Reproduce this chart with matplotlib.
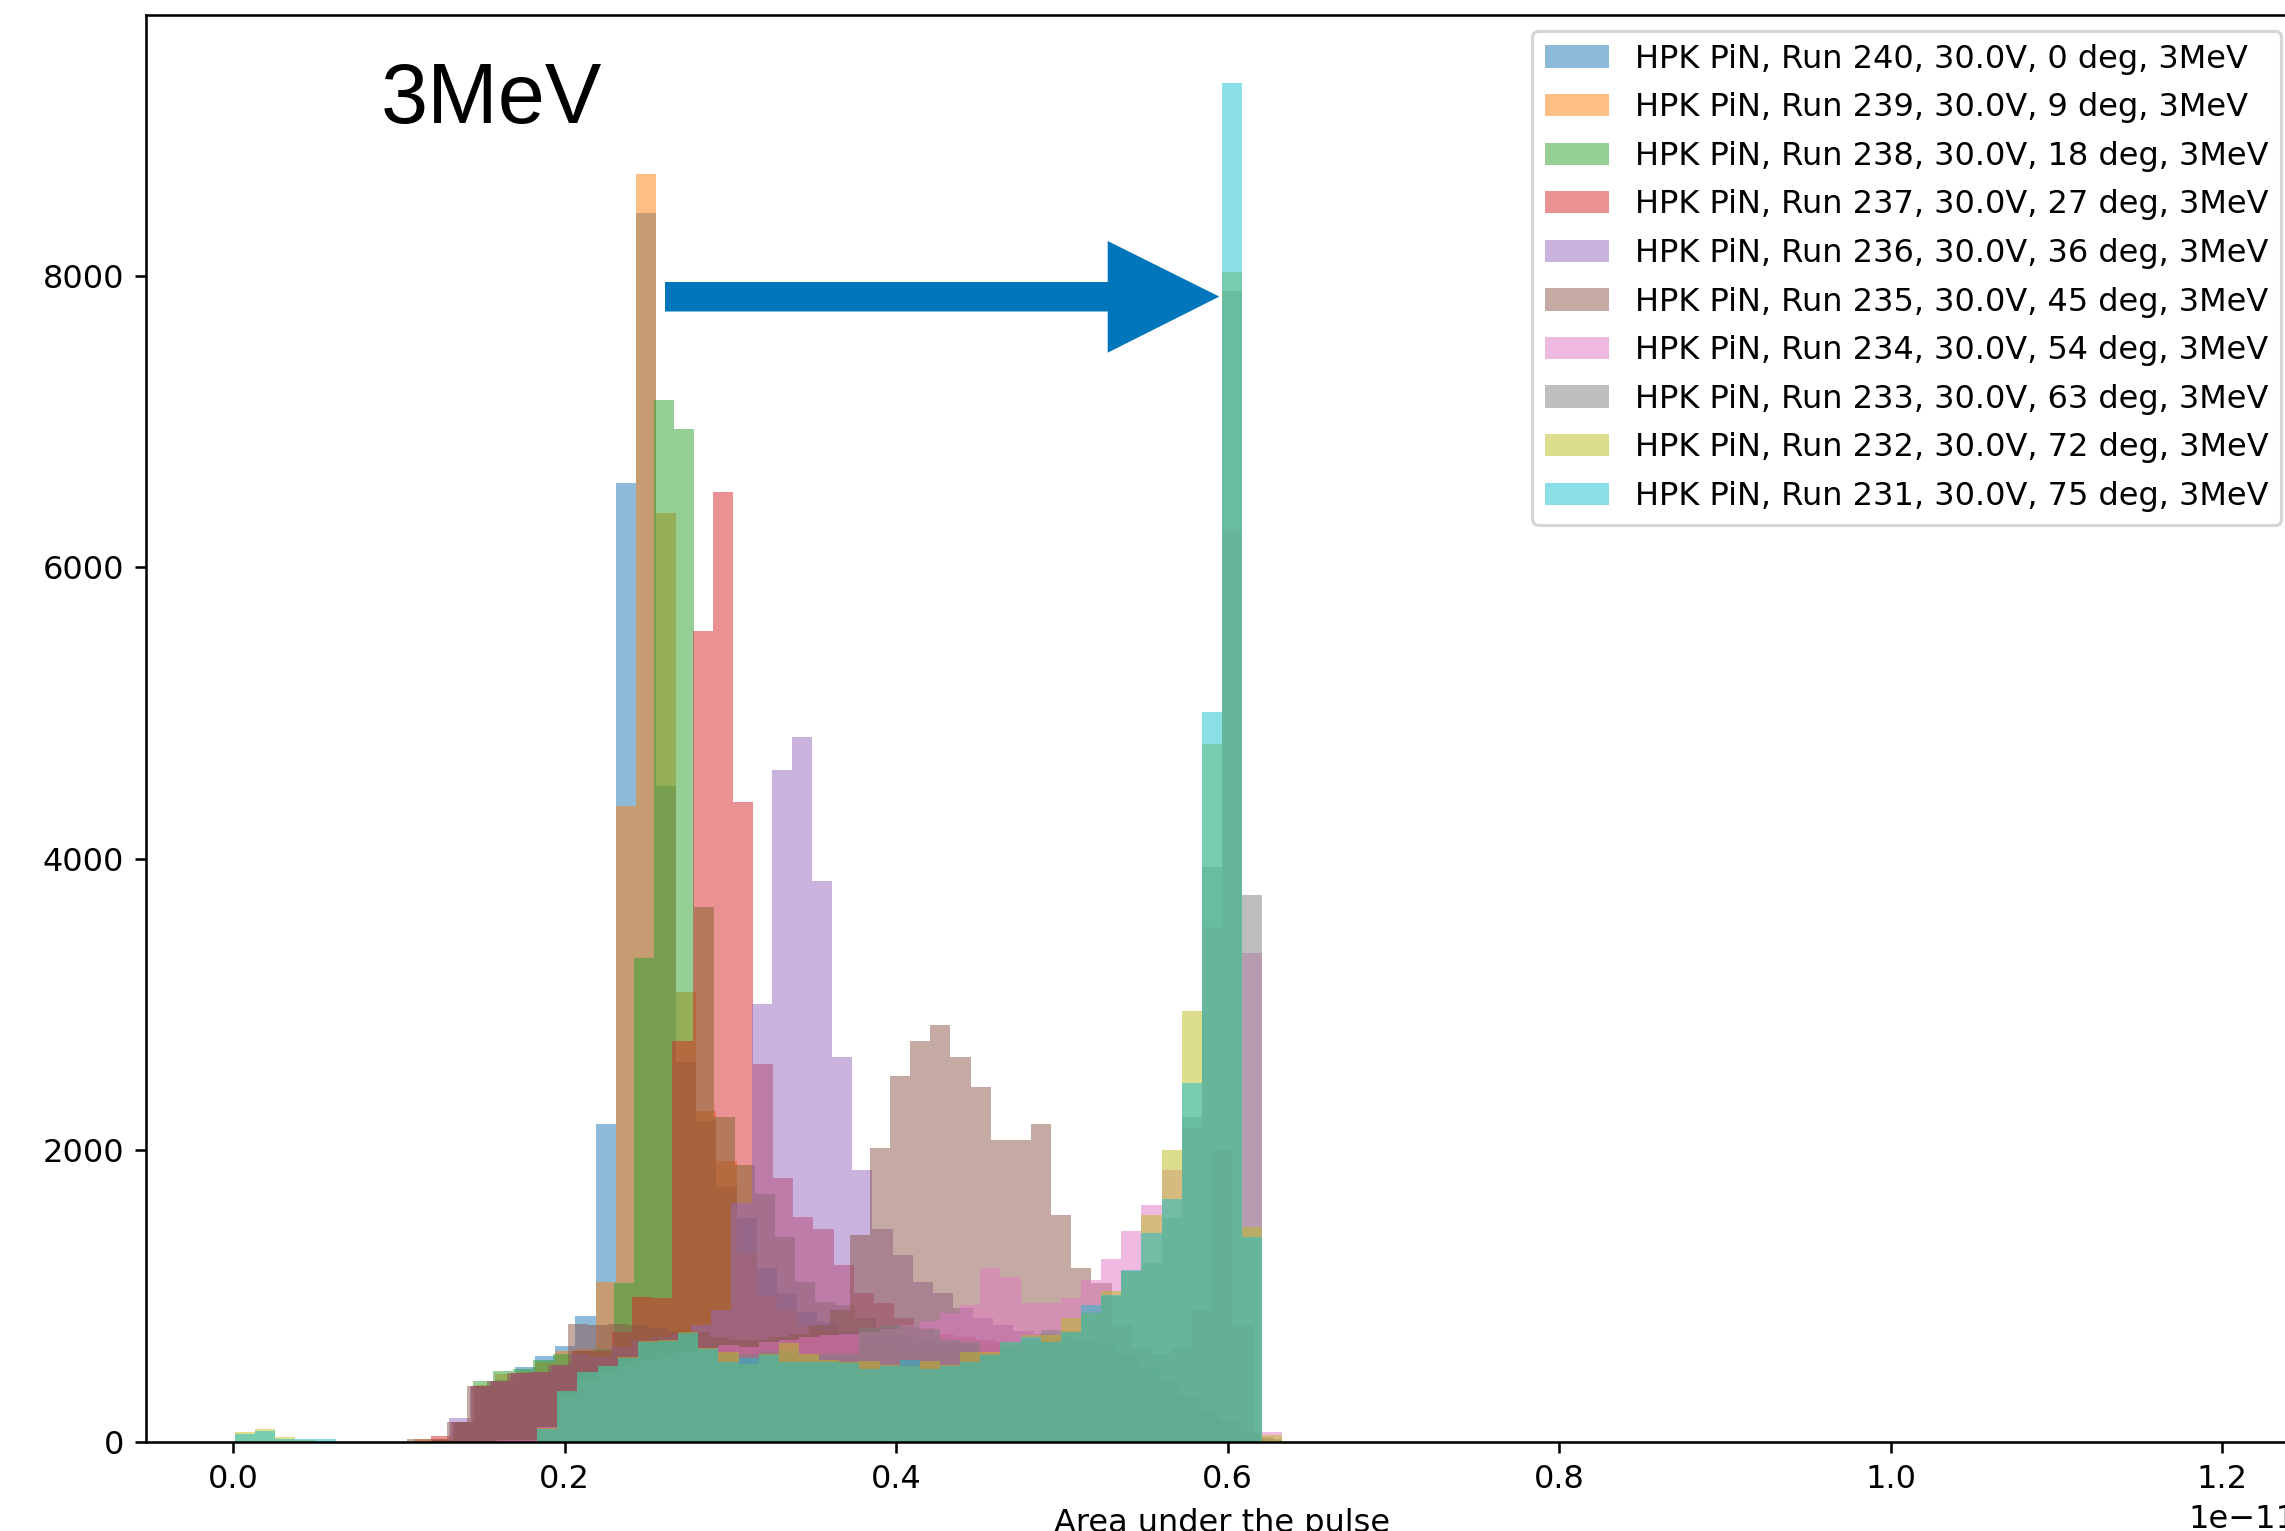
import numpy as np
import matplotlib.pyplot as plt
from matplotlib.patches import Polygon

runs = [240, 239, 238, 237, 236, 235, 234, 233, 232, 231]
angles = [0, 9, 18, 27, 36, 45, 54, 63, 72, 75]

# counts per bin (bin width BIN_W, in units of 1e-11)
blue = [0, 0, 0, 0, 0, 0, 0, 0, 0,
        0, 0, 136, 380, 420, 511, 589, 655, 863, 2180, 6580, 8430, 4502, 2608, 2200, 1747, 1531, 1188, 1016, 890, 820, 760,
        700, 660, 630, 610, 600, 590, 590, 590, 600, 610, 620, 630, 620, 580, 500, 400, 300, 200, 130, 60, 0]
orange = [0, 0, 0, 0, 0, 0, 0, 0, 0,
          15, 20, 136, 387, 461, 480, 545, 621, 634, 1096, 4360, 8700, 6375, 3083, 2270, 1926, 1291, 1000, 900, 800, 760, 720,
          680, 650, 620, 600, 590, 580, 580, 580, 590, 600, 610, 610, 590, 540, 460, 360, 260, 180, 110, 50, 0]
green = [0, 0, 0, 0, 0, 0, 0, 0, 0,
         0, 10, 136, 417, 481, 495, 562, 600, 620, 634, 1085, 3322, 7150, 6950, 3668, 2228, 1896, 1702, 1401, 1096, 959, 936,
         850, 780, 730, 700, 680, 670, 660, 660, 670, 680, 690, 690, 660, 600, 500, 400, 300, 210, 140, 60, 0]
red = [0, 0, 0, 0, 0, 0, 0, 0, 0,
       0, 38, 136, 380, 415, 472, 479, 525, 620, 620, 750, 991, 984, 2749, 5565, 6520, 4390, 2594, 1809, 1542, 1462, 1210,
       1020, 950, 850, 780, 740, 720, 700, 680, 660, 650, 640, 620, 580, 520, 440, 360, 280, 200, 130, 60, 0]
purple = [0, 0, 0, 0, 0, 0, 0, 0, 0,
          0, 0, 163, 380, 415, 472, 479, 525, 600, 580, 650, 700, 720, 740, 800, 902, 1634, 3005, 4610, 4833, 3848, 2640,
          1862, 1462, 1280, 1096, 1017, 915, 850, 800, 760, 740, 720, 700, 660, 600, 520, 420, 320, 230, 150, 80, 0]
brown = [0, 0, 0, 0, 0, 0, 0, 0, 0,
         20, 20, 136, 380, 415, 472, 479, 525, 810, 799, 805, 800, 780, 760, 750, 720, 700, 700, 720, 740, 800, 900,
         1416, 2017, 2509, 2749, 2860, 2640, 2434, 2068, 2068, 2182, 1555, 1190, 1085, 800, 650, 600, 650, 900, 2000, 800, 30]
pink = [0, 0, 0, 0, 0, 0, 0, 0, 0,
        0, 0, 0, 0, 10, 10, 100, 300, 420, 480, 520, 560, 600, 620, 640, 660, 650, 680, 700, 720, 730, 740,
        750, 770, 800, 830, 880, 936, 1188, 1130, 948, 948, 982, 1112, 1256, 1446, 1622, 1862, 2150, 3535, 6247, 3353, 67]
gray = [0, 0, 0, 0, 0, 0, 0, 0, 0,
        0, 0, 0, 0, 0, 0, 80, 340, 470, 510, 560, 670, 680, 720, 640, 600, 600, 620, 620, 600, 600, 600,
        780, 800, 790, 770, 700, 680, 600, 640, 700, 765, 760, 879, 1000, 1170, 1226, 1533, 2228, 3947, 7897, 3753, 20]
olive = [67, 84, 33, 10, 0, 0, 0, 0, 0,
         0, 0, 0, 0, 0, 0, 90, 350, 480, 520, 580, 690, 695, 750, 640, 616, 530, 600, 678, 600, 560, 545,
         554, 525, 520, 554, 525, 612, 612, 684, 730, 730, 847, 879, 1034, 1170, 1558, 2004, 2952, 4790, 8027, 1471, 42]
cyan = [49, 72, 17, 20, 15, 0, 0, 0, 0,
        0, 0, 0, 0, 0, 0, 88, 349, 479, 518, 575, 685, 690, 746, 636, 547, 570, 593, 547, 547, 547, 536,
        497, 520, 560, 497, 520, 547, 593, 684, 718, 684, 753, 936, 1005, 1176, 1432, 1668, 2459, 5006, 9326, 1402, 0]

series = [blue, orange, green, red, purple, brown, pink, gray, olive, cyan]
# each run was binned on its own grid, shifted by a fraction of a bin
bin_shift = [0.0, 0.0, -0.1, -0.18, -0.25, -0.38, 0.1, 0.1, 0.1, 0.1]
BIN_W = 0.01215

W, H, DPI = 2285, 1531, 230
fig = plt.figure(figsize=(W / DPI, H / DPI), dpi=DPI)
ax = fig.add_axes([146.4 / W, 1 - 1441.5 / H, (2297 - 146.4) / W, (1441.5 - 15) / H])

for counts, shift, run, ang in zip(series, bin_shift, runs, angles):
    edges = (np.arange(len(counts) + 1) + shift) * BIN_W * 1e-11
    centers = 0.5 * (edges[:-1] + edges[1:])
    ax.hist(centers, bins=edges, weights=counts, alpha=0.5,
            label=f"HPK PiN, Run {run}, 30.0V, {ang} deg, 3MeV")

ax.set_xlim(-0.0522e-11, 1.245e-11)
ax.set_xlabel("Area under the pulse")
ax.legend(loc="upper right", labelspacing=0.55)

fig.text(381 / W, 1 - 123 / H, "3MeV", fontsize=26.5, family="Liberation Sans",
         ha="left", va="baseline")

# arrow from the low-angle peak to the high-angle peak
arrow_px = [(665, 282), (1107.7, 282), (1107.7, 241), (1219.3, 296.6),
            (1107.7, 352.7), (1107.7, 311.5), (665, 311.5)]
arrow = Polygon([(x / W, 1 - y / H) for x, y in arrow_px], closed=True,
                transform=fig.transFigure, facecolor="#0176BA", edgecolor="none")
fig.add_artist(arrow)

fig.savefig("out.png", dpi=DPI)
